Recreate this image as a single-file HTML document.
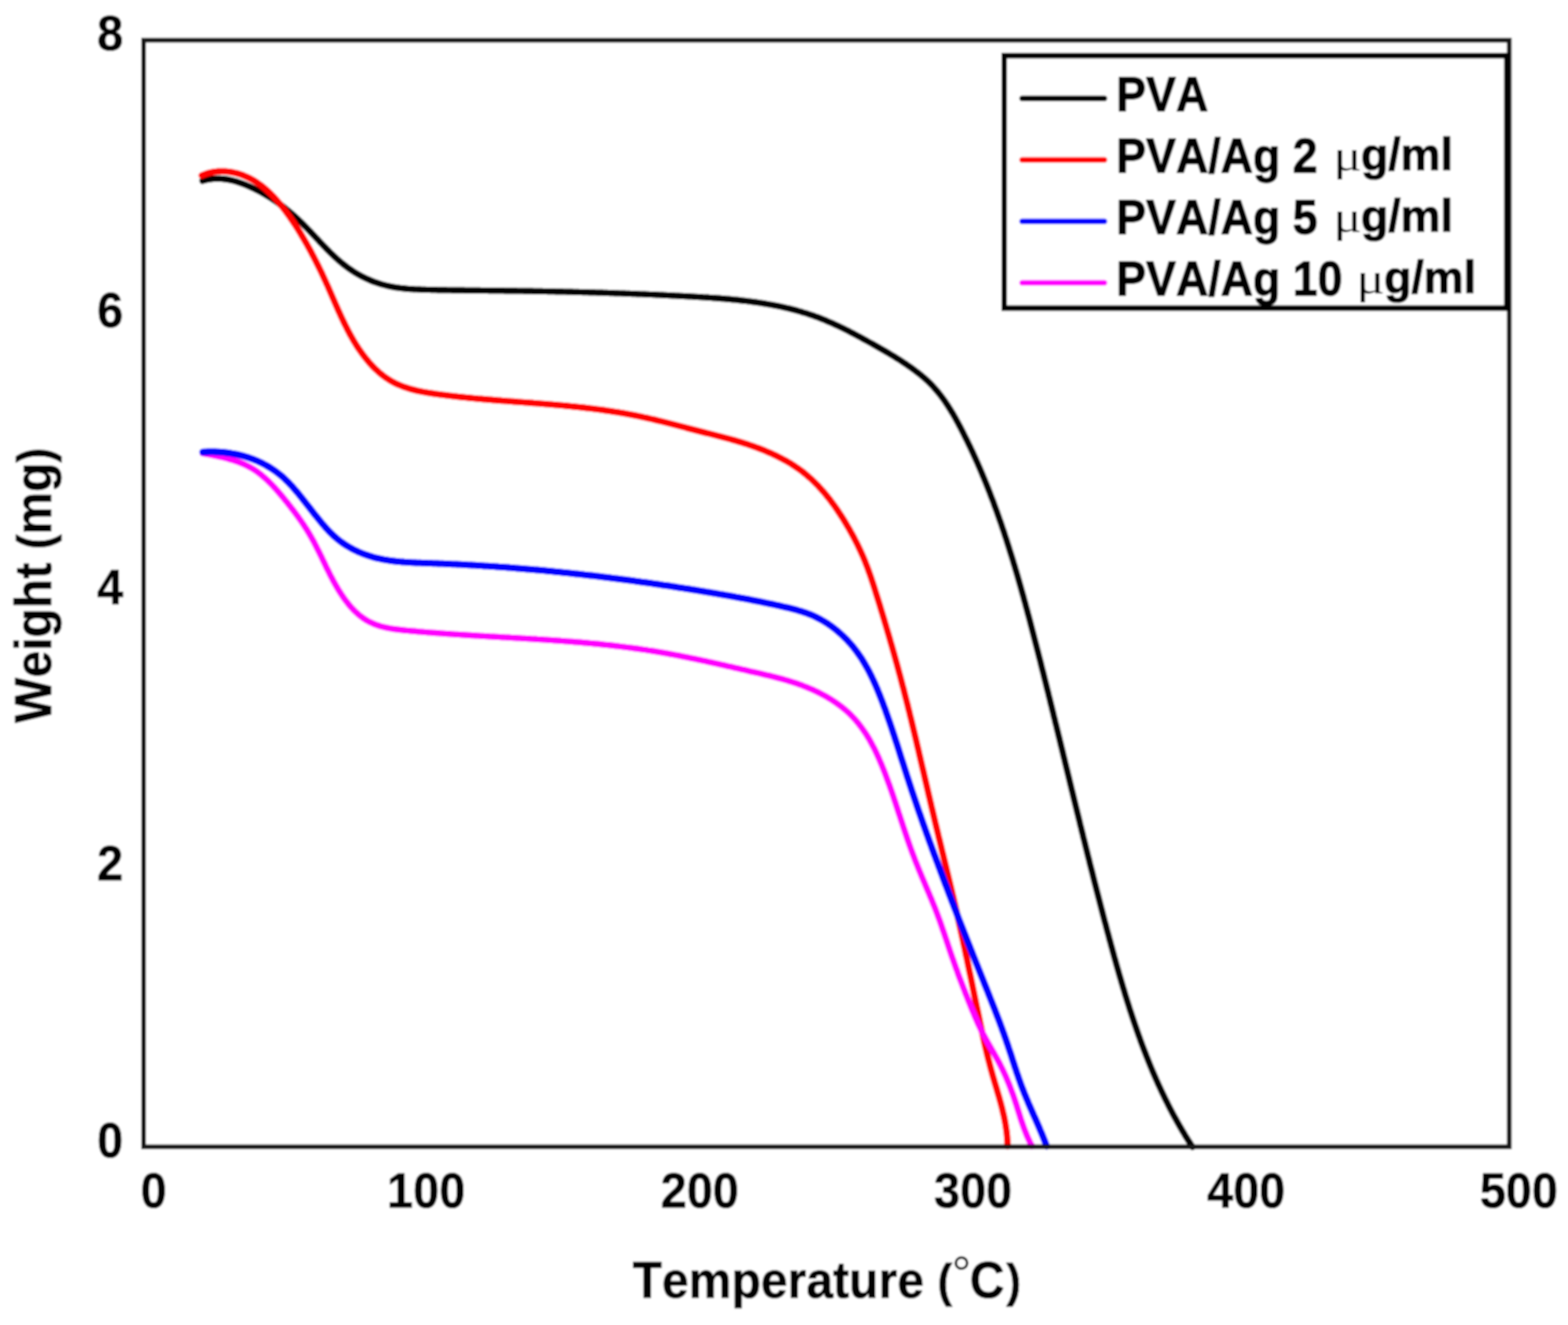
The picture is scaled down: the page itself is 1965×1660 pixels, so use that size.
<!DOCTYPE html>
<html><head><meta charset="utf-8"><title>TGA curves</title>
<style>html,body{margin:0;padding:0;background:#fff;overflow:hidden;}svg{display:block;font-kerning:none;}</style>
</head><body>
<svg xmlns="http://www.w3.org/2000/svg" width="1965" height="1660" viewBox="0 0 1965 1660" font-family="'Liberation Sans', Arial, Helvetica, sans-serif" font-weight="bold" fill="#000" style="font-kerning:none"><defs><filter id="soft" x="0" y="0" width="1965" height="1660" filterUnits="userSpaceOnUse"><feGaussianBlur stdDeviation="0.8"/></filter></defs><g filter="url(#soft)"><rect x="0" y="0" width="1965" height="1660" fill="#ffffff"/>
<g fill="none" stroke-linecap="round" stroke-linejoin="round">
<path d="M253.9 226.5L255.9 225.9L257.9 225.4L259.9 225.0L261.8 224.6L263.8 224.4L265.8 224.1L267.7 224.0L269.7 223.9L271.7 223.8L273.6 223.8L275.6 223.9L277.5 224.0L279.5 224.2L281.4 224.4L283.4 224.6L285.3 224.9L287.2 225.3L289.1 225.7L291.1 226.1L293.0 226.6L294.9 227.1L296.8 227.7L298.7 228.3L300.6 228.9L302.5 229.6L304.3 230.2L306.2 231.0L308.1 231.7L309.9 232.5L311.7 233.2L313.6 234.1L315.4 234.9L317.2 235.7L319.0 236.6L320.8 237.5L322.6 238.4L324.4 239.3L326.1 240.2L327.9 241.2L329.6 242.2L331.4 243.2L333.1 244.2L334.8 245.2L336.5 246.2L338.2 247.3L339.9 248.4L341.6 249.5L343.2 250.6L344.9 251.7L346.6 252.9L348.2 254.0L349.8 255.2L351.4 256.4L353.1 257.6L354.7 258.8L356.2 260.0L357.8 261.3L359.4 262.5L360.9 263.8L362.5 265.1L364.0 266.4L365.6 267.7L367.1 269.0L368.6 270.3L370.1 271.7L371.6 273.1L373.1 274.4L374.5 275.8L376.0 277.2L377.4 278.6L378.9 280.0L380.3 281.4L381.7 282.9L383.2 284.3L384.6 285.8L386.0 287.2L387.4 288.7L388.8 290.1L390.2 291.6L391.5 293.1L392.9 294.5L394.3 296.0L395.7 297.5L397.1 299.0L398.5 300.4L399.8 301.9L401.2 303.4L402.6 304.8L404.0 306.3L405.4 307.7L406.8 309.2L408.2 310.6L409.6 312.1L411.0 313.5L412.4 314.9L413.8 316.3L415.2 317.7L416.7 319.1L418.1 320.4L419.6 321.8L421.0 323.2L422.5 324.5L424.0 325.8L425.5 327.1L427.0 328.4L428.5 329.6L430.0 330.9L431.6 332.1L433.2 333.3L434.7 334.5L436.3 335.7L437.9 336.8L439.6 337.9L441.2 339.0L442.9 340.1L444.6 341.2L446.3 342.2L448.0 343.2L449.7 344.2L451.4 345.1L453.2 346.1L454.9 347.0L456.7 347.8L458.5 348.7L460.3 349.5L462.1 350.3L464.0 351.1L465.8 351.9L467.6 352.6L469.5 353.3L471.4 353.9L473.3 354.6L475.1 355.2L477.0 355.8L479.0 356.4L480.9 356.9L482.8 357.4L484.7 357.9L486.7 358.3L488.6 358.8L490.6 359.1L492.5 359.5L494.5 359.9L496.5 360.2L498.4 360.5L500.4 360.7L502.4 361.0L504.4 361.2L506.4 361.4L508.4 361.6L510.4 361.8L512.4 362.0L514.4 362.1L516.4 362.2L518.4 362.3L520.4 362.5L522.5 362.5L524.5 362.6L526.5 362.7L528.5 362.8L530.5 362.8L532.6 362.9L534.6 363.0L536.6 363.0L538.6 363.0L540.6 363.1L542.7 363.1L544.7 363.2L546.7 363.2L548.7 363.3L550.7 363.3L552.8 363.3L554.8 363.4L556.8 363.4L558.8 363.4L560.8 363.5L562.8 363.5L564.8 363.5L566.8 363.6L568.8 363.6L570.9 363.6L572.9 363.6L574.9 363.7L576.9 363.7L578.9 363.7L580.9 363.7L582.9 363.8L584.9 363.8L586.9 363.8L588.9 363.8L590.9 363.9L592.9 363.9L594.9 363.9L596.9 363.9L598.9 363.9L600.9 363.9L602.9 364.0L604.9 364.0L606.9 364.0L608.9 364.0L610.9 364.0L612.9 364.1L614.9 364.1L616.9 364.1L618.9 364.1L620.9 364.1L622.9 364.2L624.9 364.2L626.9 364.2L628.9 364.2L630.9 364.2L632.9 364.3L634.9 364.3L636.9 364.3L638.9 364.3L640.9 364.4L642.9 364.4L644.9 364.4L646.9 364.4L648.9 364.5L650.9 364.5L652.9 364.5L654.9 364.5L656.9 364.6L658.9 364.6L660.9 364.6L662.8 364.7L664.8 364.7L666.8 364.7L668.8 364.8L670.8 364.8L672.8 364.8L674.8 364.9L676.8 364.9L678.8 364.9L680.8 365.0L682.8 365.0L684.8 365.0L686.8 365.1L688.8 365.1L690.8 365.1L692.8 365.2L694.7 365.2L696.7 365.3L698.7 365.3L700.7 365.3L702.7 365.4L704.7 365.4L706.7 365.5L708.7 365.5L710.7 365.6L712.7 365.6L714.7 365.7L716.7 365.7L718.7 365.8L720.7 365.8L722.7 365.9L724.6 365.9L726.6 366.0L728.6 366.0L730.6 366.1L732.6 366.1L734.6 366.2L736.6 366.2L738.6 366.3L740.6 366.3L742.6 366.4L744.6 366.4L746.6 366.5L748.6 366.6L750.6 366.6L752.6 366.7L754.6 366.7L756.6 366.8L758.6 366.9L760.5 366.9L762.5 367.0L764.5 367.1L766.5 367.1L768.5 367.2L770.5 367.3L772.5 367.3L774.5 367.4L776.5 367.5L778.5 367.5L780.5 367.6L782.5 367.7L784.5 367.8L786.5 367.8L788.5 367.9L790.5 368.0L792.5 368.1L794.5 368.1L796.5 368.2L798.5 368.3L800.5 368.4L802.5 368.5L804.5 368.5L806.5 368.6L808.5 368.7L810.5 368.8L812.5 368.9L814.5 369.0L816.5 369.0L818.5 369.1L820.5 369.2L822.5 369.3L824.5 369.4L826.5 369.5L828.5 369.6L830.5 369.7L832.5 369.8L834.5 369.9L836.5 370.0L838.6 370.1L840.6 370.2L842.6 370.3L844.6 370.4L846.6 370.5L848.6 370.6L850.6 370.7L852.6 370.8L854.6 370.9L856.6 371.0L858.6 371.1L860.6 371.2L862.7 371.3L864.7 371.4L866.7 371.5L868.7 371.6L870.7 371.8L872.7 371.9L874.7 372.0L876.7 372.1L878.8 372.2L880.8 372.4L882.8 372.5L884.8 372.6L886.8 372.7L888.8 372.9L890.8 373.0L892.8 373.2L894.9 373.3L896.9 373.4L898.9 373.6L900.9 373.7L902.9 373.9L904.9 374.1L906.9 374.2L908.9 374.4L910.9 374.6L912.9 374.7L914.9 374.9L916.9 375.1L918.9 375.3L921.0 375.5L923.0 375.7L925.0 375.9L926.9 376.1L928.9 376.4L930.9 376.6L932.9 376.8L934.9 377.0L936.9 377.3L938.9 377.5L940.9 377.8L942.9 378.1L944.9 378.3L946.9 378.6L948.8 378.9L950.8 379.2L952.8 379.5L954.8 379.8L956.7 380.1L958.7 380.4L960.7 380.8L962.6 381.1L964.6 381.5L966.6 381.8L968.5 382.2L970.5 382.6L972.4 382.9L974.4 383.3L976.3 383.7L978.3 384.1L980.2 384.6L982.2 385.0L984.1 385.4L986.0 385.9L988.0 386.3L989.9 386.8L991.8 387.3L993.8 387.8L995.7 388.3L997.6 388.8L999.5 389.3L1001.4 389.9L1003.3 390.4L1005.2 391.0L1007.1 391.6L1009.0 392.1L1010.9 392.7L1012.8 393.3L1014.7 394.0L1016.6 394.6L1018.4 395.2L1020.3 395.9L1022.2 396.6L1024.0 397.2L1025.9 397.9L1027.8 398.6L1029.6 399.4L1031.5 400.1L1033.3 400.8L1035.2 401.6L1037.0 402.4L1038.8 403.2L1040.7 404.0L1042.5 404.8L1044.3 405.6L1046.1 406.4L1047.9 407.2L1049.8 408.1L1051.6 408.9L1053.4 409.8L1055.2 410.7L1057.0 411.6L1058.8 412.4L1060.6 413.3L1062.4 414.2L1064.2 415.2L1065.9 416.1L1067.7 417.0L1069.5 417.9L1071.3 418.9L1073.1 419.8L1074.8 420.8L1076.6 421.7L1078.4 422.7L1080.2 423.6L1081.9 424.6L1083.7 425.6L1085.5 426.5L1087.2 427.5L1089.0 428.5L1090.8 429.5L1092.5 430.4L1094.3 431.4L1096.0 432.4L1097.8 433.4L1099.5 434.4L1101.3 435.4L1103.0 436.4L1104.8 437.4L1106.5 438.4L1108.3 439.4L1110.0 440.4L1111.7 441.4L1113.5 442.4L1115.2 443.5L1116.9 444.5L1118.6 445.5L1120.4 446.6L1122.1 447.6L1123.8 448.7L1125.5 449.8L1127.2 450.8L1128.9 451.9L1130.6 453.0L1132.2 454.1L1133.9 455.2L1135.6 456.3L1137.2 457.5L1138.9 458.6L1140.5 459.8L1142.2 460.9L1143.8 462.1L1145.4 463.3L1147.0 464.5L1148.6 465.7L1150.2 466.9L1151.8 468.1L1153.4 469.4L1154.9 470.7L1156.4 471.9L1158.0 473.2L1159.5 474.6L1160.9 475.9L1162.4 477.2L1163.8 478.6L1165.3 480.0L1166.7 481.4L1168.0 482.8L1169.4 484.3L1170.7 485.7L1172.0 487.2L1173.3 488.7L1174.6 490.2L1175.9 491.7L1177.1 493.3L1178.3 494.8L1179.5 496.4L1180.7 498.0L1181.9 499.6L1183.1 501.2L1184.2 502.8L1185.3 504.5L1186.4 506.1L1187.5 507.8L1188.6 509.5L1189.7 511.2L1190.8 512.9L1191.8 514.6L1192.8 516.3L1193.9 518.0L1194.9 519.7L1195.9 521.5L1196.9 523.2L1197.8 524.9L1198.8 526.7L1199.8 528.5L1200.7 530.2L1201.7 532.0L1202.6 533.8L1203.6 535.6L1204.5 537.3L1205.4 539.1L1206.3 540.9L1207.2 542.7L1208.1 544.5L1209.0 546.3L1209.9 548.1L1210.8 549.9L1211.7 551.7L1212.6 553.5L1213.5 555.3L1214.3 557.1L1215.2 558.9L1216.1 560.7L1216.9 562.5L1217.8 564.3L1218.6 566.2L1219.5 568.0L1220.3 569.8L1221.1 571.6L1222.0 573.4L1222.8 575.3L1223.6 577.1L1224.4 578.9L1225.2 580.7L1226.0 582.6L1226.8 584.4L1227.6 586.2L1228.4 588.1L1229.2 589.9L1230.0 591.8L1230.8 593.6L1231.5 595.5L1232.3 597.3L1233.1 599.1L1233.8 601.0L1234.6 602.8L1235.3 604.7L1236.1 606.5L1236.8 608.4L1237.6 610.3L1238.3 612.1L1239.0 614.0L1239.8 615.8L1240.5 617.7L1241.2 619.6L1241.9 621.4L1242.6 623.3L1243.3 625.2L1244.1 627.0L1244.8 628.9L1245.5 630.8L1246.1 632.7L1246.8 634.5L1247.5 636.4L1248.2 638.3L1248.9 640.2L1249.6 642.0L1250.2 643.9L1250.9 645.8L1251.6 647.7L1252.2 649.6L1252.9 651.5L1253.6 653.4L1254.2 655.2L1254.9 657.1L1255.5 659.0L1256.1 660.9L1256.8 662.8L1257.4 664.7L1258.1 666.6L1258.7 668.5L1259.3 670.4L1259.9 672.3L1260.6 674.2L1261.2 676.1L1261.8 678.0L1262.4 679.9L1263.0 681.8L1263.6 683.7L1264.2 685.6L1264.8 687.5L1265.4 689.4L1266.0 691.4L1266.6 693.3L1267.2 695.2L1267.8 697.1L1268.4 699.0L1269.0 700.9L1269.6 702.8L1270.1 704.8L1270.7 706.7L1271.3 708.6L1271.9 710.5L1272.4 712.4L1273.0 714.3L1273.6 716.3L1274.1 718.2L1274.7 720.1L1275.3 722.0L1275.8 724.0L1276.4 725.9L1276.9 727.8L1277.5 729.7L1278.0 731.7L1278.6 733.6L1279.1 735.5L1279.7 737.4L1280.2 739.4L1280.7 741.3L1281.3 743.2L1281.8 745.2L1282.4 747.1L1282.9 749.0L1283.4 751.0L1283.9 752.9L1284.5 754.8L1285.0 756.8L1285.5 758.7L1286.0 760.6L1286.6 762.6L1287.1 764.5L1287.6 766.4L1288.1 768.4L1288.6 770.3L1289.2 772.2L1289.7 774.2L1290.2 776.1L1290.7 778.0L1291.2 780.0L1291.7 781.9L1292.2 783.9L1292.7 785.8L1293.2 787.7L1293.7 789.7L1294.2 791.6L1294.7 793.6L1295.2 795.5L1295.7 797.4L1296.2 799.4L1296.7 801.3L1297.2 803.3L1297.7 805.2L1298.2 807.1L1298.7 809.1L1299.2 811.0L1299.7 813.0L1300.2 814.9L1300.7 816.8L1301.2 818.8L1301.7 820.7L1302.2 822.7L1302.7 824.6L1303.2 826.5L1303.7 828.5L1304.2 830.4L1304.6 832.4L1305.1 834.3L1305.6 836.3L1306.1 838.2L1306.6 840.1L1307.1 842.1L1307.6 844.0L1308.1 846.0L1308.5 847.9L1309.0 849.8L1309.5 851.8L1310.0 853.7L1310.5 855.7L1311.0 857.6L1311.4 859.5L1311.9 861.5L1312.4 863.4L1312.9 865.4L1313.4 867.3L1313.9 869.3L1314.3 871.2L1314.8 873.1L1315.3 875.1L1315.8 877.0L1316.2 879.0L1316.7 880.9L1317.2 882.9L1317.7 884.8L1318.2 886.7L1318.6 888.7L1319.1 890.6L1319.6 892.6L1320.1 894.5L1320.5 896.4L1321.0 898.4L1321.5 900.3L1322.0 902.3L1322.4 904.2L1322.9 906.2L1323.4 908.1L1323.9 910.0L1324.3 912.0L1324.8 913.9L1325.3 915.9L1325.8 917.8L1326.2 919.8L1326.7 921.7L1327.2 923.6L1327.7 925.6L1328.1 927.5L1328.6 929.5L1329.1 931.4L1329.5 933.4L1330.0 935.3L1330.5 937.2L1331.0 939.2L1331.4 941.1L1331.9 943.1L1332.4 945.0L1332.8 947.0L1333.3 948.9L1333.8 950.8L1334.3 952.8L1334.7 954.7L1335.2 956.7L1335.7 958.6L1336.1 960.5L1336.6 962.5L1337.1 964.4L1337.6 966.4L1338.0 968.3L1338.5 970.3L1339.0 972.2L1339.4 974.1L1339.9 976.1L1340.4 978.0L1340.8 980.0L1341.3 981.9L1341.8 983.9L1342.3 985.8L1342.7 987.7L1343.2 989.7L1343.7 991.6L1344.2 993.6L1344.6 995.5L1345.1 997.5L1345.6 999.4L1346.0 1001.3L1346.5 1003.3L1347.0 1005.2L1347.5 1007.2L1347.9 1009.1L1348.4 1011.0L1348.9 1013.0L1349.4 1014.9L1349.8 1016.9L1350.3 1018.8L1350.8 1020.8L1351.3 1022.7L1351.7 1024.6L1352.2 1026.6L1352.7 1028.5L1353.2 1030.5L1353.6 1032.4L1354.1 1034.4L1354.6 1036.3L1355.1 1038.2L1355.5 1040.2L1356.0 1042.1L1356.5 1044.1L1357.0 1046.0L1357.4 1047.9L1357.9 1049.9L1358.4 1051.8L1358.9 1053.8L1359.4 1055.7L1359.8 1057.6L1360.3 1059.6L1360.8 1061.5L1361.3 1063.5L1361.8 1065.4L1362.3 1067.4L1362.7 1069.3L1363.2 1071.2L1363.7 1073.2L1364.2 1075.1L1364.7 1077.1L1365.2 1079.0L1365.6 1080.9L1366.1 1082.9L1366.6 1084.8L1367.1 1086.8L1367.6 1088.7L1368.1 1090.6L1368.6 1092.6L1369.1 1094.5L1369.6 1096.5L1370.0 1098.4L1370.5 1100.3L1371.0 1102.3L1371.5 1104.2L1372.0 1106.2L1372.5 1108.1L1373.0 1110.0L1373.5 1112.0L1374.0 1113.9L1374.5 1115.9L1375.0 1117.8L1375.5 1119.7L1376.0 1121.7L1376.5 1123.6L1377.0 1125.5L1377.5 1127.5L1378.0 1129.4L1378.5 1131.4L1379.0 1133.3L1379.5 1135.2L1380.0 1137.2L1380.5 1139.1L1381.0 1141.1L1381.5 1143.0L1382.0 1144.9L1382.5 1146.9L1383.0 1148.8L1383.5 1150.7L1384.0 1152.7L1384.5 1154.6L1385.1 1156.6L1385.6 1158.5L1386.1 1160.4L1386.6 1162.4L1387.1 1164.3L1387.6 1166.2L1388.1 1168.2L1388.7 1170.1L1389.2 1172.1L1389.7 1174.0L1390.2 1175.9L1390.7 1177.9L1391.3 1179.8L1391.8 1181.7L1392.3 1183.7L1392.8 1185.6L1393.4 1187.5L1393.9 1189.5L1394.4 1191.4L1394.9 1193.3L1395.5 1195.3L1396.0 1197.2L1396.5 1199.1L1397.1 1201.1L1397.6 1203.0L1398.2 1204.9L1398.7 1206.9L1399.2 1208.8L1399.8 1210.7L1400.3 1212.7L1400.9 1214.6L1401.4 1216.5L1402.0 1218.4L1402.5 1220.4L1403.1 1222.3L1403.6 1224.2L1404.2 1226.1L1404.8 1228.1L1405.3 1230.0L1405.9 1231.9L1406.5 1233.8L1407.0 1235.8L1407.6 1237.7L1408.2 1239.6L1408.8 1241.5L1409.4 1243.4L1409.9 1245.4L1410.5 1247.3L1411.1 1249.2L1411.7 1251.1L1412.3 1253.0L1412.9 1254.9L1413.5 1256.8L1414.1 1258.7L1414.7 1260.6L1415.3 1262.6L1415.9 1264.5L1416.5 1266.4L1417.2 1268.3L1417.8 1270.2L1418.4 1272.1L1419.0 1274.0L1419.7 1275.9L1420.3 1277.8L1420.9 1279.7L1421.6 1281.6L1422.2 1283.4L1422.9 1285.3L1423.5 1287.2L1424.2 1289.1L1424.8 1291.0L1425.5 1292.9L1426.2 1294.8L1426.8 1296.7L1427.5 1298.5L1428.2 1300.4L1428.9 1302.3L1429.5 1304.2L1430.2 1306.0L1430.9 1307.9L1431.6 1309.8L1432.3 1311.7L1433.0 1313.5L1433.7 1315.4L1434.5 1317.3L1435.2 1319.1L1435.9 1321.0L1436.6 1322.8L1437.4 1324.7L1438.1 1326.5L1438.8 1328.4L1439.6 1330.3L1440.3 1332.1L1441.1 1333.9L1441.8 1335.8L1442.6 1337.6L1443.4 1339.5L1444.1 1341.3L1444.9 1343.2L1445.7 1345.0L1446.5 1346.8L1447.3 1348.7L1448.1 1350.5L1448.9 1352.3L1449.7 1354.1L1450.5 1355.9L1451.3 1357.8L1452.2 1359.6L1453.0 1361.4L1453.8 1363.2L1454.7 1365.0L1455.5 1366.8L1456.4 1368.6L1457.2 1370.4L1458.1 1372.2L1459.0 1374.0L1459.8 1375.8L1460.7 1377.6L1461.6 1379.4L1462.5 1381.2L1463.4 1383.0L1464.3 1384.8L1465.2 1386.5L1466.1 1388.3L1467.0 1390.1L1468.0 1391.9L1468.9 1393.6L1469.8 1395.4L1470.8 1397.2L1471.7 1398.9L1472.7 1400.7L1473.7 1402.4L1474.6 1404.2L1475.6 1405.9L1476.6 1407.7L1477.6 1409.4L1478.6 1411.2L1479.6 1412.9L1480.6 1414.6L1481.6 1416.4L1482.6 1418.1L1483.7 1419.8L1484.7 1421.6L1485.7 1423.3L1486.8 1425.0L1487.9 1426.7L1488.9 1428.4L1490.0 1430.1L1491.1 1431.8L1492.2 1433.5L1493.2 1435.2L1494.4 1436.9" stroke="#000000" stroke-width="8.2"/>
<path d="M252.9 219.9L254.8 219.1L256.7 218.4L258.6 217.7L260.5 217.1L262.5 216.5L264.4 216.1L266.4 215.7L268.4 215.3L270.3 215.1L272.3 214.8L274.3 214.7L276.3 214.6L278.3 214.6L280.3 214.6L282.3 214.7L284.2 214.9L286.2 215.1L288.2 215.3L290.1 215.7L292.1 216.0L294.0 216.5L296.0 216.9L297.9 217.4L299.8 218.0L301.7 218.6L303.6 219.3L305.5 220.0L307.3 220.8L309.2 221.6L311.0 222.4L312.8 223.3L314.5 224.2L316.3 225.2L318.0 226.2L319.7 227.2L321.4 228.3L323.0 229.4L324.7 230.6L326.3 231.7L327.9 232.9L329.4 234.2L331.0 235.4L332.5 236.7L334.0 238.0L335.5 239.4L337.0 240.7L338.4 242.1L339.9 243.5L341.3 245.0L342.7 246.4L344.1 247.9L345.4 249.4L346.8 250.9L348.1 252.4L349.4 253.9L350.7 255.4L352.0 257.0L353.3 258.5L354.5 260.1L355.7 261.7L357.0 263.3L358.2 264.9L359.4 266.5L360.5 268.1L361.7 269.7L362.9 271.3L364.0 273.0L365.1 274.6L366.3 276.3L367.4 277.9L368.5 279.6L369.6 281.3L370.7 283.0L371.7 284.6L372.8 286.3L373.9 288.0L374.9 289.7L376.0 291.4L377.0 293.1L378.0 294.9L379.1 296.6L380.1 298.3L381.1 300.0L382.1 301.8L383.1 303.5L384.1 305.2L385.1 307.0L386.0 308.7L387.0 310.5L388.0 312.2L388.9 314.0L389.9 315.7L390.8 317.5L391.7 319.3L392.7 321.0L393.6 322.8L394.5 324.6L395.4 326.4L396.3 328.2L397.2 330.0L398.1 331.7L399.0 333.5L399.9 335.3L400.8 337.1L401.6 338.9L402.5 340.7L403.4 342.5L404.2 344.4L405.1 346.2L405.9 348.0L406.7 349.8L407.6 351.6L408.4 353.4L409.2 355.3L410.1 357.1L410.9 358.9L411.7 360.7L412.5 362.6L413.3 364.4L414.1 366.2L414.9 368.1L415.7 369.9L416.5 371.7L417.3 373.6L418.1 375.4L418.9 377.2L419.7 379.1L420.5 380.9L421.3 382.7L422.1 384.5L422.9 386.4L423.7 388.2L424.5 390.0L425.4 391.8L426.2 393.7L427.0 395.5L427.9 397.3L428.7 399.1L429.6 400.9L430.4 402.7L431.3 404.5L432.2 406.3L433.1 408.1L434.0 409.9L434.9 411.7L435.8 413.5L436.7 415.2L437.7 417.0L438.6 418.8L439.6 420.5L440.6 422.3L441.6 424.0L442.6 425.8L443.6 427.5L444.7 429.2L445.7 431.0L446.8 432.7L447.9 434.4L449.0 436.1L450.2 437.8L451.3 439.4L452.5 441.1L453.7 442.8L454.9 444.4L456.1 446.0L457.3 447.6L458.6 449.2L459.9 450.8L461.2 452.3L462.5 453.9L463.8 455.4L465.2 456.9L466.5 458.3L467.9 459.8L469.3 461.2L470.7 462.6L472.2 463.9L473.7 465.3L475.1 466.6L476.6 467.9L478.2 469.1L479.7 470.3L481.3 471.5L482.9 472.7L484.5 473.8L486.1 474.8L487.7 475.9L489.4 476.9L491.1 477.9L492.8 478.8L494.5 479.7L496.3 480.6L498.0 481.4L499.8 482.2L501.6 482.9L503.5 483.6L505.3 484.3L507.1 485.0L509.0 485.6L510.9 486.2L512.8 486.8L514.7 487.4L516.6 487.9L518.5 488.4L520.5 488.9L522.4 489.4L524.4 489.8L526.4 490.2L528.3 490.6L530.3 491.0L532.3 491.4L534.3 491.7L536.3 492.1L538.3 492.4L540.3 492.7L542.4 493.0L544.4 493.3L546.4 493.6L548.4 493.9L550.4 494.2L552.5 494.4L554.5 494.7L556.5 494.9L558.5 495.2L560.5 495.4L562.6 495.7L564.6 495.9L566.6 496.2L568.6 496.4L570.6 496.6L572.6 496.8L574.6 497.1L576.7 497.3L578.7 497.5L580.7 497.7L582.7 497.9L584.7 498.1L586.7 498.3L588.7 498.5L590.7 498.7L592.7 498.9L594.7 499.1L596.8 499.3L598.8 499.5L600.8 499.6L602.8 499.8L604.8 500.0L606.8 500.2L608.8 500.3L610.8 500.5L612.8 500.7L614.8 500.8L616.8 501.0L618.8 501.2L620.8 501.3L622.8 501.5L624.8 501.7L626.8 501.8L628.8 502.0L630.8 502.1L632.8 502.3L634.8 502.4L636.8 502.6L638.7 502.7L640.7 502.9L642.7 503.0L644.7 503.2L646.7 503.3L648.7 503.5L650.7 503.6L652.7 503.8L654.7 503.9L656.7 504.1L658.7 504.2L660.7 504.4L662.6 504.5L664.6 504.7L666.6 504.8L668.6 505.0L670.6 505.1L672.6 505.3L674.6 505.4L676.5 505.6L678.5 505.8L680.5 505.9L682.5 506.1L684.5 506.2L686.5 506.4L688.4 506.6L690.4 506.7L692.4 506.9L694.4 507.1L696.4 507.2L698.3 507.4L700.3 507.6L702.3 507.8L704.3 507.9L706.3 508.1L708.2 508.3L710.2 508.5L712.2 508.7L714.2 508.9L716.2 509.1L718.1 509.3L720.1 509.5L722.1 509.7L724.1 509.9L726.0 510.1L728.0 510.3L730.0 510.5L732.0 510.7L733.9 511.0L735.9 511.2L737.9 511.4L739.8 511.7L741.8 511.9L743.8 512.2L745.8 512.4L747.7 512.7L749.7 512.9L751.7 513.2L753.6 513.4L755.6 513.7L757.6 514.0L759.6 514.3L761.5 514.6L763.5 514.9L765.5 515.2L767.4 515.5L769.4 515.8L771.4 516.1L773.3 516.4L775.3 516.7L777.3 517.1L779.2 517.4L781.2 517.7L783.2 518.1L785.1 518.4L787.1 518.8L789.1 519.2L791.0 519.5L793.0 519.9L795.0 520.3L796.9 520.7L798.9 521.1L800.9 521.5L802.8 521.9L804.8 522.3L806.8 522.8L808.7 523.2L810.7 523.6L812.7 524.1L814.6 524.5L816.6 525.0L818.6 525.4L820.5 525.9L822.5 526.4L824.4 526.9L826.4 527.3L828.4 527.8L830.3 528.3L832.3 528.8L834.2 529.3L836.2 529.8L838.2 530.3L840.1 530.8L842.1 531.3L844.0 531.8L846.0 532.3L847.9 532.8L849.9 533.3L851.8 533.8L853.8 534.3L855.7 534.8L857.7 535.3L859.6 535.8L861.6 536.4L863.5 536.9L865.5 537.4L867.4 537.9L869.4 538.4L871.3 538.9L873.2 539.4L875.2 539.9L877.1 540.4L879.1 540.9L881.0 541.4L882.9 541.9L884.9 542.4L886.8 542.8L888.7 543.3L890.6 543.8L892.6 544.3L894.5 544.8L896.4 545.3L898.3 545.8L900.3 546.3L902.2 546.7L904.1 547.2L906.0 547.7L908.0 548.3L909.9 548.8L911.8 549.3L913.7 549.8L915.6 550.3L917.6 550.9L919.5 551.4L921.4 551.9L923.3 552.5L925.2 553.1L927.1 553.6L929.1 554.2L931.0 554.8L932.9 555.4L934.8 556.0L936.7 556.6L938.6 557.3L940.5 557.9L942.4 558.6L944.3 559.2L946.2 559.9L948.1 560.6L950.0 561.3L951.9 562.0L953.8 562.7L955.7 563.5L957.5 564.2L959.4 565.0L961.3 565.8L963.1 566.6L964.9 567.4L966.8 568.2L968.6 569.0L970.4 569.9L972.2 570.7L974.1 571.6L975.8 572.5L977.6 573.4L979.4 574.3L981.2 575.3L982.9 576.2L984.7 577.2L986.4 578.2L988.1 579.2L989.9 580.2L991.6 581.2L993.2 582.3L994.9 583.4L996.6 584.5L998.2 585.6L999.9 586.7L1001.5 587.9L1003.1 589.0L1004.7 590.2L1006.3 591.4L1007.8 592.6L1009.4 593.9L1010.9 595.2L1012.4 596.5L1013.9 597.8L1015.4 599.1L1016.9 600.4L1018.3 601.8L1019.8 603.2L1021.2 604.6L1022.6 606.0L1024.0 607.4L1025.4 608.8L1026.7 610.3L1028.1 611.8L1029.4 613.3L1030.8 614.8L1032.1 616.3L1033.4 617.8L1034.7 619.4L1035.9 620.9L1037.2 622.5L1038.4 624.1L1039.7 625.6L1040.9 627.2L1042.1 628.8L1043.3 630.5L1044.5 632.1L1045.7 633.7L1046.9 635.4L1048.0 637.0L1049.2 638.7L1050.3 640.4L1051.4 642.1L1052.5 643.7L1053.6 645.4L1054.7 647.1L1055.8 648.8L1056.9 650.5L1057.9 652.2L1059.0 654.0L1060.0 655.7L1061.0 657.4L1062.0 659.1L1063.1 660.9L1064.1 662.6L1065.1 664.3L1066.0 666.1L1067.0 667.8L1068.0 669.6L1068.9 671.3L1069.9 673.1L1070.8 674.8L1071.7 676.6L1072.6 678.3L1073.5 680.1L1074.4 681.9L1075.3 683.7L1076.1 685.5L1077.0 687.3L1077.8 689.1L1078.7 690.9L1079.5 692.7L1080.3 694.5L1081.1 696.3L1081.9 698.1L1082.7 700.0L1083.4 701.8L1084.2 703.6L1084.9 705.5L1085.6 707.4L1086.4 709.2L1087.1 711.1L1087.8 713.0L1088.4 714.8L1089.1 716.7L1089.8 718.6L1090.5 720.5L1091.1 722.4L1091.8 724.3L1092.4 726.2L1093.0 728.1L1093.7 730.0L1094.3 731.9L1094.9 733.8L1095.5 735.7L1096.1 737.6L1096.7 739.6L1097.3 741.5L1097.9 743.4L1098.5 745.3L1099.1 747.2L1099.7 749.2L1100.3 751.1L1100.9 753.0L1101.5 754.9L1102.1 756.8L1102.7 758.8L1103.3 760.7L1103.8 762.6L1104.4 764.5L1105.0 766.4L1105.6 768.4L1106.2 770.3L1106.7 772.2L1107.3 774.1L1107.9 776.0L1108.5 778.0L1109.0 779.9L1109.6 781.8L1110.2 783.7L1110.7 785.6L1111.3 787.6L1111.9 789.5L1112.4 791.4L1113.0 793.3L1113.6 795.3L1114.1 797.2L1114.7 799.1L1115.2 801.0L1115.8 802.9L1116.3 804.9L1116.9 806.8L1117.4 808.7L1118.0 810.6L1118.5 812.6L1119.1 814.5L1119.6 816.4L1120.2 818.3L1120.7 820.3L1121.2 822.2L1121.8 824.1L1122.3 826.0L1122.8 828.0L1123.4 829.9L1123.9 831.8L1124.4 833.8L1125.0 835.7L1125.5 837.6L1126.0 839.5L1126.5 841.5L1127.0 843.4L1127.6 845.3L1128.1 847.3L1128.6 849.2L1129.1 851.1L1129.6 853.1L1130.1 855.0L1130.6 856.9L1131.1 858.9L1131.6 860.8L1132.2 862.7L1132.7 864.7L1133.1 866.6L1133.6 868.5L1134.1 870.5L1134.6 872.4L1135.1 874.4L1135.6 876.3L1136.1 878.2L1136.6 880.2L1137.1 882.1L1137.6 884.1L1138.0 886.0L1138.5 888.0L1139.0 889.9L1139.5 891.8L1140.0 893.8L1140.4 895.7L1140.9 897.7L1141.4 899.6L1141.9 901.6L1142.3 903.5L1142.8 905.4L1143.3 907.4L1143.7 909.3L1144.2 911.3L1144.7 913.2L1145.1 915.2L1145.6 917.1L1146.1 919.1L1146.5 921.0L1147.0 923.0L1147.5 924.9L1147.9 926.9L1148.4 928.8L1148.8 930.8L1149.3 932.7L1149.7 934.7L1150.2 936.6L1150.7 938.6L1151.1 940.5L1151.6 942.5L1152.0 944.4L1152.5 946.4L1152.9 948.3L1153.4 950.3L1153.8 952.2L1154.3 954.2L1154.7 956.1L1155.2 958.1L1155.6 960.0L1156.1 962.0L1156.6 963.9L1157.0 965.9L1157.5 967.8L1157.9 969.8L1158.4 971.7L1158.8 973.7L1159.3 975.6L1159.7 977.6L1160.2 979.5L1160.6 981.5L1161.1 983.4L1161.5 985.4L1162.0 987.3L1162.4 989.3L1162.9 991.2L1163.3 993.2L1163.8 995.1L1164.2 997.1L1164.7 999.0L1165.2 1001.0L1165.6 1002.9L1166.1 1004.9L1166.5 1006.8L1167.0 1008.8L1167.4 1010.7L1167.9 1012.7L1168.4 1014.6L1168.8 1016.6L1169.3 1018.5L1169.7 1020.5L1170.2 1022.4L1170.7 1024.4L1171.1 1026.3L1171.6 1028.3L1172.0 1030.2L1172.5 1032.2L1173.0 1034.1L1173.4 1036.1L1173.9 1038.0L1174.4 1040.0L1174.8 1041.9L1175.3 1043.8L1175.8 1045.8L1176.2 1047.7L1176.7 1049.7L1177.2 1051.6L1177.7 1053.6L1178.1 1055.5L1178.6 1057.5L1179.1 1059.4L1179.5 1061.4L1180.0 1063.3L1180.5 1065.2L1180.9 1067.2L1181.4 1069.1L1181.9 1071.1L1182.4 1073.0L1182.8 1075.0L1183.3 1076.9L1183.8 1078.9L1184.2 1080.8L1184.7 1082.7L1185.2 1084.7L1185.6 1086.6L1186.1 1088.6L1186.6 1090.5L1187.0 1092.5L1187.5 1094.4L1188.0 1096.4L1188.4 1098.3L1188.9 1100.2L1189.4 1102.2L1189.8 1104.1L1190.3 1106.1L1190.8 1108.0L1191.2 1110.0L1191.7 1111.9L1192.1 1113.9L1192.6 1115.8L1193.1 1117.8L1193.5 1119.7L1194.0 1121.7L1194.4 1123.6L1194.9 1125.6L1195.4 1127.5L1195.8 1129.4L1196.3 1131.4L1196.7 1133.3L1197.2 1135.3L1197.6 1137.2L1198.1 1139.2L1198.5 1141.1L1199.0 1143.1L1199.4 1145.0L1199.8 1147.0L1200.3 1148.9L1200.7 1150.9L1201.2 1152.8L1201.6 1154.8L1202.0 1156.8L1202.5 1158.7L1202.9 1160.7L1203.4 1162.6L1203.8 1164.6L1204.2 1166.5L1204.6 1168.5L1205.1 1170.4L1205.5 1172.4L1205.9 1174.3L1206.4 1176.3L1206.8 1178.3L1207.2 1180.2L1207.6 1182.2L1208.0 1184.1L1208.5 1186.1L1208.9 1188.0L1209.3 1190.0L1209.7 1192.0L1210.1 1193.9L1210.5 1195.9L1210.9 1197.8L1211.4 1199.8L1211.8 1201.8L1212.2 1203.7L1212.6 1205.7L1213.0 1207.6L1213.4 1209.6L1213.8 1211.5L1214.2 1213.5L1214.6 1215.5L1215.0 1217.4L1215.5 1219.4L1215.9 1221.4L1216.3 1223.3L1216.7 1225.3L1217.1 1227.2L1217.5 1229.2L1217.9 1231.2L1218.3 1233.1L1218.7 1235.1L1219.1 1237.0L1219.5 1239.0L1219.9 1241.0L1220.3 1242.9L1220.7 1244.9L1221.1 1246.8L1221.5 1248.8L1221.9 1250.8L1222.3 1252.7L1222.7 1254.7L1223.1 1256.6L1223.5 1258.6L1223.9 1260.6L1224.3 1262.5L1224.8 1264.5L1225.2 1266.4L1225.6 1268.4L1226.0 1270.4L1226.4 1272.3L1226.8 1274.3L1227.2 1276.2L1227.6 1278.2L1228.0 1280.2L1228.4 1282.1L1228.8 1284.1L1229.3 1286.0L1229.7 1288.0L1230.1 1289.9L1230.5 1291.9L1230.9 1293.8L1231.3 1295.8L1231.8 1297.8L1232.2 1299.7L1232.6 1301.7L1233.1 1303.6L1233.5 1305.6L1233.9 1307.5L1234.4 1309.5L1234.8 1311.4L1235.3 1313.4L1235.8 1315.3L1236.2 1317.2L1236.7 1319.2L1237.1 1321.1L1237.6 1323.1L1238.1 1325.0L1238.6 1327.0L1239.1 1328.9L1239.6 1330.8L1240.1 1332.8L1240.6 1334.7L1241.1 1336.6L1241.6 1338.6L1242.1 1340.5L1242.7 1342.4L1243.2 1344.3L1243.7 1346.3L1244.3 1348.2L1244.8 1350.1L1245.4 1352.0L1246.0 1354.0L1246.5 1355.9L1247.1 1357.8L1247.7 1359.7L1248.2 1361.6L1248.8 1363.5L1249.4 1365.5L1249.9 1367.4L1250.5 1369.3L1251.0 1371.2L1251.6 1373.1L1252.2 1375.1L1252.7 1377.0L1253.2 1378.9L1253.8 1380.8L1254.3 1382.8L1254.8 1384.7L1255.3 1386.6L1255.8 1388.6L1256.3 1390.5L1256.7 1392.4L1257.2 1394.4L1257.6 1396.3L1258.1 1398.3L1258.5 1400.2L1258.9 1402.2L1259.3 1404.1L1259.6 1406.1L1260.0 1408.0L1260.3 1410.0L1260.6 1412.0L1260.9 1414.0L1261.2 1415.9L1261.5 1417.9L1261.7 1419.9L1261.9 1421.9L1262.1 1423.9L1262.2 1425.9L1262.4 1427.9L1262.5 1429.9L1262.6 1432.0L1262.6 1434.0L1262.6 1436.0" stroke="#ff0000" stroke-width="8.4"/>
<path d="M254.1 567.8L256.0 568.2L258.0 568.6L259.9 568.9L261.9 569.3L263.9 569.7L265.8 570.1L267.8 570.5L269.8 570.9L271.8 571.3L273.7 571.7L275.7 572.2L277.7 572.6L279.7 573.1L281.7 573.6L283.6 574.1L285.6 574.6L287.6 575.2L289.5 575.7L291.5 576.3L293.4 576.9L295.3 577.6L297.2 578.2L299.1 578.9L301.0 579.6L302.8 580.4L304.7 581.1L306.5 581.9L308.3 582.8L310.1 583.7L311.8 584.6L313.6 585.5L315.3 586.5L317.0 587.5L318.6 588.5L320.3 589.6L321.9 590.7L323.5 591.9L325.0 593.1L326.6 594.3L328.1 595.5L329.6 596.8L331.1 598.1L332.6 599.4L334.0 600.7L335.5 602.1L336.9 603.5L338.3 604.9L339.7 606.3L341.1 607.7L342.5 609.2L343.8 610.6L345.2 612.1L346.5 613.6L347.9 615.1L349.2 616.7L350.5 618.2L351.8 619.7L353.1 621.3L354.4 622.8L355.7 624.4L356.9 626.0L358.2 627.5L359.5 629.1L360.8 630.7L362.0 632.3L363.3 633.9L364.5 635.5L365.7 637.1L367.0 638.7L368.2 640.3L369.4 641.9L370.6 643.5L371.8 645.1L373.0 646.7L374.2 648.4L375.3 650.0L376.5 651.7L377.6 653.3L378.8 655.0L379.9 656.6L381.0 658.3L382.1 660.0L383.2 661.6L384.3 663.3L385.3 665.0L386.4 666.7L387.4 668.4L388.4 670.1L389.4 671.8L390.4 673.6L391.4 675.3L392.3 677.0L393.3 678.8L394.2 680.5L395.1 682.3L396.0 684.0L396.9 685.8L397.8 687.6L398.7 689.3L399.6 691.1L400.5 692.9L401.3 694.7L402.2 696.4L403.1 698.2L403.9 700.0L404.8 701.8L405.7 703.6L406.5 705.4L407.4 707.2L408.2 709.0L409.1 710.8L410.0 712.6L410.9 714.4L411.8 716.2L412.7 718.0L413.6 719.8L414.5 721.5L415.4 723.3L416.4 725.1L417.3 726.9L418.3 728.7L419.3 730.5L420.3 732.3L421.3 734.0L422.3 735.8L423.3 737.6L424.4 739.3L425.5 741.1L426.6 742.8L427.7 744.5L428.9 746.2L430.0 747.9L431.2 749.6L432.4 751.3L433.6 752.9L434.9 754.5L436.1 756.1L437.4 757.7L438.7 759.2L440.0 760.7L441.4 762.2L442.7 763.6L444.1 765.1L445.5 766.4L447.0 767.8L448.4 769.1L449.9 770.4L451.4 771.6L453.0 772.8L454.5 773.9L456.1 775.1L457.7 776.1L459.4 777.1L461.0 778.1L462.7 779.0L464.4 779.8L466.2 780.6L467.9 781.4L469.7 782.1L471.5 782.8L473.3 783.4L475.2 784.0L477.1 784.6L478.9 785.1L480.8 785.6L482.8 786.0L484.7 786.4L486.6 786.8L488.6 787.2L490.6 787.5L492.5 787.9L494.5 788.2L496.5 788.4L498.5 788.7L500.5 788.9L502.5 789.2L504.6 789.4L506.6 789.6L508.6 789.8L510.6 790.0L512.7 790.2L514.7 790.4L516.7 790.6L518.8 790.7L520.8 790.9L522.8 791.1L524.8 791.3L526.8 791.5L528.9 791.6L530.9 791.8L532.9 792.0L534.9 792.1L537.0 792.3L539.0 792.5L541.0 792.6L543.0 792.8L545.0 792.9L547.1 793.1L549.1 793.2L551.1 793.4L553.1 793.5L555.1 793.7L557.1 793.8L559.1 794.0L561.2 794.1L563.2 794.2L565.2 794.4L567.2 794.5L569.2 794.7L571.2 794.8L573.2 794.9L575.2 795.0L577.3 795.2L579.3 795.3L581.3 795.4L583.3 795.6L585.3 795.7L587.3 795.8L589.3 795.9L591.3 796.1L593.3 796.2L595.3 796.3L597.3 796.4L599.3 796.5L601.3 796.7L603.3 796.8L605.3 796.9L607.3 797.0L609.3 797.1L611.3 797.2L613.3 797.4L615.3 797.5L617.3 797.6L619.3 797.7L621.3 797.8L623.3 797.9L625.3 798.0L627.3 798.2L629.3 798.3L631.3 798.4L633.3 798.5L635.3 798.6L637.3 798.7L639.3 798.8L641.3 799.0L643.3 799.1L645.3 799.2L647.3 799.3L649.3 799.4L651.3 799.5L653.3 799.7L655.3 799.8L657.3 799.9L659.3 800.0L661.3 800.1L663.2 800.2L665.2 800.4L667.2 800.5L669.2 800.6L671.2 800.7L673.2 800.9L675.2 801.0L677.2 801.1L679.2 801.2L681.2 801.4L683.2 801.5L685.1 801.6L687.1 801.8L689.1 801.9L691.1 802.0L693.1 802.2L695.1 802.3L697.1 802.4L699.1 802.6L701.0 802.7L703.0 802.9L705.0 803.0L707.0 803.2L709.0 803.3L711.0 803.5L712.9 803.6L714.9 803.8L716.9 803.9L718.9 804.1L720.9 804.3L722.9 804.4L724.9 804.6L726.8 804.7L728.8 804.9L730.8 805.1L732.8 805.3L734.8 805.4L736.8 805.6L738.7 805.8L740.7 806.0L742.7 806.2L744.7 806.4L746.7 806.6L748.6 806.7L750.6 806.9L752.6 807.1L754.6 807.3L756.6 807.6L758.5 807.8L760.5 808.0L762.5 808.2L764.5 808.4L766.5 808.6L768.4 808.8L770.4 809.1L772.4 809.3L774.4 809.5L776.4 809.8L778.3 810.0L780.3 810.3L782.3 810.5L784.3 810.8L786.3 811.0L788.2 811.3L790.2 811.5L792.2 811.8L794.2 812.1L796.2 812.3L798.1 812.6L800.1 812.9L802.1 813.2L804.1 813.5L806.0 813.8L808.0 814.0L810.0 814.3L812.0 814.7L814.0 815.0L815.9 815.3L817.9 815.6L819.9 815.9L821.9 816.2L823.8 816.6L825.8 816.9L827.8 817.2L829.8 817.6L831.8 817.9L833.7 818.3L835.7 818.6L837.7 819.0L839.7 819.4L841.6 819.7L843.6 820.1L845.6 820.5L847.6 820.8L849.6 821.2L851.5 821.6L853.5 822.0L855.5 822.4L857.5 822.8L859.4 823.2L861.4 823.6L863.4 824.0L865.4 824.4L867.3 824.8L869.3 825.2L871.3 825.6L873.2 826.0L875.2 826.4L877.2 826.8L879.2 827.3L881.1 827.7L883.1 828.1L885.1 828.5L887.0 829.0L889.0 829.4L891.0 829.8L892.9 830.3L894.9 830.7L896.9 831.1L898.8 831.6L900.8 832.0L902.8 832.4L904.7 832.9L906.7 833.3L908.7 833.8L910.6 834.2L912.6 834.7L914.5 835.1L916.5 835.5L918.5 836.0L920.4 836.4L922.4 836.9L924.3 837.3L926.3 837.8L928.2 838.2L930.2 838.7L932.1 839.1L934.1 839.6L936.0 840.0L938.0 840.5L939.9 840.9L941.9 841.4L943.8 841.8L945.8 842.3L947.7 842.7L949.7 843.1L951.6 843.6L953.6 844.0L955.5 844.5L957.4 844.9L959.4 845.4L961.3 845.9L963.2 846.3L965.2 846.8L967.1 847.3L969.0 847.7L971.0 848.2L972.9 848.7L974.8 849.2L976.7 849.7L978.7 850.3L980.6 850.8L982.5 851.3L984.4 851.9L986.3 852.4L988.2 853.0L990.1 853.6L992.0 854.2L993.9 854.8L995.8 855.4L997.7 856.0L999.6 856.7L1001.5 857.4L1003.4 858.0L1005.3 858.7L1007.2 859.5L1009.0 860.2L1010.9 860.9L1012.8 861.7L1014.6 862.5L1016.5 863.3L1018.3 864.1L1020.2 864.9L1022.0 865.8L1023.8 866.6L1025.6 867.5L1027.4 868.4L1029.2 869.3L1031.0 870.3L1032.8 871.2L1034.5 872.2L1036.3 873.2L1038.0 874.2L1039.7 875.3L1041.4 876.3L1043.1 877.4L1044.8 878.5L1046.5 879.6L1048.1 880.7L1049.7 881.9L1051.3 883.0L1052.9 884.2L1054.5 885.4L1056.1 886.7L1057.6 887.9L1059.1 889.2L1060.6 890.5L1062.1 891.8L1063.5 893.1L1065.0 894.5L1066.4 895.9L1067.8 897.3L1069.1 898.7L1070.5 900.2L1071.8 901.6L1073.1 903.1L1074.3 904.6L1075.6 906.2L1076.8 907.7L1078.0 909.3L1079.2 910.9L1080.4 912.5L1081.5 914.1L1082.7 915.7L1083.8 917.4L1084.9 919.0L1086.0 920.7L1087.0 922.4L1088.0 924.1L1089.1 925.8L1090.1 927.6L1091.1 929.3L1092.0 931.1L1093.0 932.9L1093.9 934.6L1094.9 936.4L1095.8 938.2L1096.7 940.1L1097.6 941.9L1098.4 943.7L1099.3 945.5L1100.1 947.4L1101.0 949.2L1101.8 951.1L1102.6 953.0L1103.4 954.8L1104.2 956.7L1105.0 958.6L1105.8 960.5L1106.5 962.3L1107.3 964.2L1108.0 966.1L1108.8 968.0L1109.5 969.9L1110.2 971.8L1110.9 973.7L1111.6 975.6L1112.3 977.5L1113.0 979.4L1113.7 981.3L1114.4 983.1L1115.1 985.0L1115.7 986.9L1116.4 988.8L1117.1 990.7L1117.7 992.6L1118.4 994.5L1119.0 996.4L1119.7 998.3L1120.3 1000.2L1120.9 1002.1L1121.6 1004.0L1122.2 1005.8L1122.8 1007.7L1123.4 1009.6L1124.1 1011.5L1124.7 1013.4L1125.3 1015.3L1125.9 1017.2L1126.5 1019.1L1127.2 1021.0L1127.8 1022.8L1128.4 1024.7L1129.0 1026.6L1129.6 1028.5L1130.3 1030.4L1130.9 1032.3L1131.5 1034.2L1132.1 1036.0L1132.7 1037.9L1133.4 1039.8L1134.0 1041.7L1134.6 1043.6L1135.3 1045.4L1135.9 1047.3L1136.5 1049.2L1137.2 1051.1L1137.8 1053.0L1138.5 1054.8L1139.1 1056.7L1139.8 1058.6L1140.5 1060.5L1141.1 1062.3L1141.8 1064.2L1142.5 1066.1L1143.2 1067.9L1143.9 1069.8L1144.6 1071.7L1145.3 1073.5L1146.0 1075.4L1146.7 1077.3L1147.4 1079.1L1148.2 1081.0L1148.9 1082.9L1149.7 1084.7L1150.4 1086.6L1151.2 1088.4L1151.9 1090.3L1152.7 1092.1L1153.5 1094.0L1154.3 1095.9L1155.0 1097.7L1155.8 1099.6L1156.6 1101.4L1157.4 1103.3L1158.2 1105.1L1159.0 1107.0L1159.7 1108.8L1160.5 1110.7L1161.3 1112.5L1162.1 1114.4L1162.9 1116.3L1163.7 1118.1L1164.5 1120.0L1165.2 1121.8L1166.0 1123.7L1166.8 1125.5L1167.6 1127.4L1168.3 1129.3L1169.1 1131.1L1169.8 1133.0L1170.6 1134.8L1171.3 1136.7L1172.1 1138.6L1172.8 1140.4L1173.5 1142.3L1174.2 1144.2L1174.9 1146.1L1175.6 1147.9L1176.3 1149.8L1177.0 1151.7L1177.7 1153.6L1178.4 1155.4L1179.0 1157.3L1179.7 1159.2L1180.3 1161.1L1181.0 1163.0L1181.6 1164.9L1182.3 1166.7L1182.9 1168.6L1183.6 1170.5L1184.2 1172.4L1184.8 1174.3L1185.5 1176.2L1186.1 1178.1L1186.7 1180.0L1187.4 1181.9L1188.0 1183.7L1188.6 1185.6L1189.3 1187.5L1189.9 1189.4L1190.5 1191.3L1191.2 1193.2L1191.8 1195.1L1192.5 1197.0L1193.1 1198.9L1193.8 1200.8L1194.5 1202.6L1195.1 1204.5L1195.8 1206.4L1196.5 1208.3L1197.1 1210.2L1197.8 1212.1L1198.5 1214.0L1199.2 1215.8L1199.9 1217.7L1200.5 1219.6L1201.2 1221.5L1201.9 1223.4L1202.6 1225.3L1203.3 1227.1L1204.0 1229.0L1204.8 1230.9L1205.5 1232.8L1206.2 1234.6L1206.9 1236.5L1207.6 1238.4L1208.4 1240.2L1209.1 1242.1L1209.8 1244.0L1210.5 1245.9L1211.3 1247.7L1212.0 1249.6L1212.8 1251.4L1213.5 1253.3L1214.3 1255.2L1215.0 1257.0L1215.8 1258.9L1216.5 1260.7L1217.3 1262.6L1218.0 1264.4L1218.8 1266.3L1219.6 1268.1L1220.4 1270.0L1221.1 1271.8L1221.9 1273.7L1222.7 1275.5L1223.5 1277.3L1224.3 1279.2L1225.1 1281.0L1225.9 1282.8L1226.8 1284.6L1227.6 1286.4L1228.5 1288.2L1229.3 1290.0L1230.2 1291.8L1231.1 1293.6L1232.0 1295.4L1232.9 1297.2L1233.9 1298.9L1234.8 1300.7L1235.8 1302.4L1236.7 1304.2L1237.7 1305.9L1238.7 1307.7L1239.7 1309.4L1240.7 1311.1L1241.7 1312.8L1242.7 1314.6L1243.7 1316.3L1244.7 1318.0L1245.7 1319.8L1246.6 1321.5L1247.6 1323.2L1248.6 1325.0L1249.6 1326.7L1250.5 1328.5L1251.5 1330.2L1252.4 1332.0L1253.3 1333.7L1254.2 1335.5L1255.1 1337.3L1256.0 1339.0L1256.8 1340.8L1257.7 1342.6L1258.5 1344.4L1259.3 1346.2L1260.2 1348.0L1261.0 1349.8L1261.7 1351.7L1262.5 1353.5L1263.3 1355.3L1264.0 1357.2L1264.8 1359.0L1265.5 1360.8L1266.2 1362.7L1266.9 1364.6L1267.6 1366.4L1268.3 1368.3L1269.0 1370.2L1269.7 1372.0L1270.3 1373.9L1271.0 1375.8L1271.6 1377.7L1272.2 1379.6L1272.8 1381.5L1273.5 1383.4L1274.1 1385.3L1274.7 1387.3L1275.3 1389.2L1275.9 1391.1L1276.5 1393.0L1277.1 1394.9L1277.7 1396.8L1278.3 1398.7L1278.9 1400.7L1279.5 1402.6L1280.2 1404.5L1280.8 1406.4L1281.5 1408.3L1282.1 1410.2L1282.8 1412.1L1283.5 1413.9L1284.2 1415.8L1284.9 1417.7L1285.7 1419.6L1286.4 1421.4L1287.2 1423.3L1288.0 1425.1L1288.8 1426.9L1289.6 1428.7L1290.5 1430.5L1291.4 1432.3L1292.3 1434.1L1293.3 1435.9" stroke="#ff00ff" stroke-width="8.2"/>
<path d="M254.1 566.4L256.1 566.2L258.1 566.1L260.1 566.0L262.2 565.9L264.2 565.9L266.2 565.9L268.2 565.9L270.2 566.0L272.2 566.1L274.2 566.2L276.2 566.3L278.2 566.4L280.2 566.6L282.2 566.8L284.2 567.1L286.2 567.4L288.2 567.6L290.2 568.0L292.2 568.3L294.1 568.7L296.1 569.1L298.1 569.5L300.0 570.0L302.0 570.5L303.9 571.0L305.8 571.5L307.7 572.1L309.7 572.7L311.6 573.3L313.4 574.0L315.3 574.6L317.2 575.3L319.0 576.1L320.9 576.8L322.7 577.6L324.5 578.4L326.3 579.3L328.1 580.1L329.9 581.0L331.7 582.0L333.4 582.9L335.1 583.9L336.8 584.9L338.5 585.9L340.2 587.0L341.9 588.1L343.5 589.2L345.1 590.3L346.7 591.5L348.3 592.7L349.8 593.9L351.4 595.1L352.9 596.4L354.4 597.7L355.9 599.0L357.3 600.4L358.7 601.8L360.2 603.2L361.6 604.6L362.9 606.0L364.3 607.5L365.7 608.9L367.0 610.4L368.3 611.9L369.7 613.4L371.0 615.0L372.3 616.5L373.6 618.1L374.8 619.6L376.1 621.2L377.4 622.8L378.6 624.3L379.9 625.9L381.1 627.5L382.4 629.1L383.6 630.7L384.9 632.3L386.1 633.8L387.4 635.4L388.6 637.0L389.8 638.6L391.1 640.2L392.3 641.8L393.6 643.4L394.8 644.9L396.1 646.5L397.4 648.1L398.6 649.7L399.9 651.2L401.2 652.8L402.5 654.3L403.7 655.9L405.1 657.4L406.4 658.9L407.7 660.5L409.0 662.0L410.4 663.4L411.8 664.9L413.2 666.4L414.6 667.8L416.0 669.2L417.4 670.6L418.9 671.9L420.4 673.2L421.9 674.5L423.4 675.8L425.0 677.0L426.6 678.2L428.2 679.4L429.8 680.5L431.4 681.6L433.1 682.7L434.8 683.8L436.5 684.8L438.2 685.8L439.9 686.8L441.7 687.7L443.4 688.6L445.2 689.5L447.0 690.3L448.8 691.2L450.6 692.0L452.4 692.7L454.3 693.5L456.1 694.2L458.0 694.9L459.9 695.5L461.8 696.2L463.6 696.8L465.5 697.3L467.4 697.9L469.4 698.4L471.3 698.9L473.2 699.4L475.1 699.8L477.0 700.2L479.0 700.6L480.9 701.0L482.9 701.3L484.8 701.7L486.8 702.0L488.8 702.3L490.7 702.5L492.7 702.8L494.7 703.0L496.6 703.3L498.6 703.5L500.6 703.7L502.6 703.8L504.6 704.0L506.6 704.2L508.6 704.3L510.6 704.4L512.6 704.6L514.6 704.7L516.6 704.8L518.6 704.9L520.6 705.0L522.6 705.1L524.6 705.1L526.7 705.2L528.7 705.3L530.7 705.4L532.7 705.4L534.7 705.5L536.7 705.6L538.7 705.6L540.8 705.7L542.8 705.8L544.8 705.8L546.8 705.9L548.8 706.0L550.8 706.1L552.8 706.1L554.8 706.2L556.9 706.3L558.9 706.4L560.9 706.5L562.9 706.6L564.9 706.7L566.9 706.8L568.9 706.9L570.9 706.9L572.9 707.0L574.9 707.1L576.9 707.2L578.9 707.3L581.0 707.4L583.0 707.6L585.0 707.7L587.0 707.8L589.0 707.9L591.0 708.0L593.0 708.1L595.0 708.2L597.0 708.3L599.0 708.5L601.0 708.6L603.0 708.7L605.0 708.8L607.0 709.0L609.0 709.1L611.0 709.2L613.0 709.3L615.0 709.5L617.0 709.6L619.0 709.7L621.0 709.9L623.0 710.0L625.0 710.2L627.0 710.3L629.0 710.4L631.0 710.6L633.0 710.7L635.0 710.9L637.0 711.0L639.0 711.2L641.0 711.3L643.0 711.5L645.0 711.7L646.9 711.8L648.9 712.0L650.9 712.1L652.9 712.3L654.9 712.5L656.9 712.6L658.9 712.8L660.9 713.0L662.9 713.1L664.9 713.3L666.9 713.5L668.9 713.7L670.9 713.8L672.9 714.0L674.8 714.2L676.8 714.4L678.8 714.6L680.8 714.7L682.8 714.9L684.8 715.1L686.8 715.3L688.8 715.5L690.8 715.7L692.7 715.9L694.7 716.1L696.7 716.3L698.7 716.5L700.7 716.7L702.7 716.9L704.7 717.1L706.7 717.3L708.6 717.5L710.6 717.7L712.6 717.9L714.6 718.1L716.6 718.3L718.6 718.5L720.5 718.8L722.5 719.0L724.5 719.2L726.5 719.4L728.5 719.6L730.5 719.8L732.5 720.1L734.4 720.3L736.4 720.5L738.4 720.8L740.4 721.0L742.4 721.2L744.3 721.4L746.3 721.7L748.3 721.9L750.3 722.1L752.3 722.4L754.3 722.6L756.2 722.9L758.2 723.1L760.2 723.4L762.2 723.6L764.2 723.8L766.1 724.1L768.1 724.3L770.1 724.6L772.1 724.8L774.1 725.1L776.0 725.4L778.0 725.6L780.0 725.9L782.0 726.1L784.0 726.4L785.9 726.7L787.9 726.9L789.9 727.2L791.9 727.4L793.8 727.7L795.8 728.0L797.8 728.3L799.8 728.5L801.8 728.8L803.7 729.1L805.7 729.3L807.7 729.6L809.7 729.9L811.6 730.2L813.6 730.5L815.6 730.7L817.6 731.0L819.5 731.3L821.5 731.6L823.5 731.9L825.5 732.2L827.5 732.5L829.4 732.8L831.4 733.1L833.4 733.3L835.4 733.6L837.3 733.9L839.3 734.2L841.3 734.5L843.3 734.8L845.2 735.1L847.2 735.4L849.2 735.8L851.2 736.1L853.1 736.4L855.1 736.7L857.1 737.0L859.1 737.3L861.0 737.6L863.0 737.9L865.0 738.2L867.0 738.6L868.9 738.9L870.9 739.2L872.9 739.5L874.9 739.8L876.8 740.2L878.8 740.5L880.8 740.8L882.8 741.1L884.7 741.5L886.7 741.8L888.7 742.1L890.7 742.4L892.6 742.8L894.6 743.1L896.6 743.4L898.6 743.8L900.5 744.1L902.5 744.5L904.5 744.8L906.4 745.1L908.4 745.5L910.4 745.8L912.4 746.2L914.3 746.5L916.3 746.9L918.3 747.2L920.3 747.6L922.2 748.0L924.2 748.3L926.2 748.7L928.1 749.1L930.1 749.4L932.1 749.8L934.1 750.2L936.0 750.5L938.0 750.9L940.0 751.3L941.9 751.7L943.9 752.1L945.9 752.5L947.8 752.9L949.8 753.2L951.8 753.6L953.7 754.0L955.7 754.4L957.7 754.9L959.6 755.3L961.6 755.7L963.6 756.1L965.5 756.5L967.5 756.9L969.5 757.3L971.4 757.8L973.4 758.2L975.4 758.6L977.3 759.1L979.3 759.5L981.2 760.0L983.2 760.4L985.2 760.9L987.1 761.3L989.1 761.8L991.0 762.3L993.0 762.8L994.9 763.3L996.8 763.8L998.8 764.3L1000.7 764.9L1002.6 765.4L1004.5 766.0L1006.4 766.6L1008.3 767.3L1010.2 767.9L1012.1 768.6L1013.9 769.3L1015.8 770.0L1017.6 770.8L1019.4 771.6L1021.2 772.4L1023.0 773.3L1024.8 774.2L1026.6 775.1L1028.3 776.0L1030.0 777.0L1031.8 778.0L1033.5 779.0L1035.2 780.1L1036.8 781.1L1038.5 782.2L1040.1 783.4L1041.8 784.5L1043.4 785.7L1045.0 786.9L1046.5 788.1L1048.1 789.4L1049.6 790.7L1051.1 792.0L1052.7 793.3L1054.1 794.6L1055.6 796.0L1057.1 797.4L1058.5 798.8L1059.9 800.2L1061.3 801.6L1062.7 803.1L1064.0 804.6L1065.4 806.0L1066.7 807.6L1068.0 809.1L1069.2 810.6L1070.5 812.2L1071.7 813.8L1072.9 815.3L1074.1 816.9L1075.3 818.6L1076.4 820.2L1077.6 821.8L1078.7 823.5L1079.8 825.1L1080.8 826.8L1081.9 828.5L1082.9 830.2L1083.9 831.9L1084.9 833.7L1085.9 835.4L1086.9 837.1L1087.8 838.9L1088.8 840.7L1089.7 842.4L1090.6 844.2L1091.5 846.0L1092.4 847.8L1093.2 849.6L1094.1 851.4L1094.9 853.2L1095.8 855.1L1096.6 856.9L1097.4 858.7L1098.2 860.6L1099.0 862.4L1099.8 864.3L1100.5 866.1L1101.3 868.0L1102.0 869.8L1102.8 871.7L1103.5 873.6L1104.2 875.5L1105.0 877.3L1105.7 879.2L1106.4 881.1L1107.1 883.0L1107.8 884.9L1108.5 886.7L1109.2 888.6L1109.9 890.5L1110.5 892.4L1111.2 894.3L1111.9 896.2L1112.5 898.1L1113.2 900.0L1113.9 901.9L1114.5 903.7L1115.2 905.6L1115.8 907.5L1116.5 909.4L1117.1 911.3L1117.7 913.2L1118.4 915.1L1119.0 917.0L1119.6 918.9L1120.3 920.8L1120.9 922.7L1121.5 924.6L1122.1 926.5L1122.7 928.4L1123.4 930.3L1124.0 932.2L1124.6 934.1L1125.2 936.0L1125.8 937.9L1126.4 939.8L1127.0 941.7L1127.6 943.6L1128.2 945.6L1128.8 947.5L1129.4 949.4L1130.0 951.3L1130.6 953.2L1131.3 955.1L1131.9 957.0L1132.5 958.9L1133.1 960.8L1133.7 962.7L1134.3 964.6L1134.9 966.5L1135.5 968.4L1136.1 970.3L1136.7 972.2L1137.3 974.1L1138.0 976.0L1138.6 977.9L1139.2 979.8L1139.8 981.7L1140.4 983.6L1141.1 985.5L1141.7 987.4L1142.3 989.3L1142.9 991.2L1143.6 993.1L1144.2 995.0L1144.9 996.9L1145.5 998.8L1146.1 1000.6L1146.8 1002.5L1147.4 1004.4L1148.1 1006.3L1148.7 1008.2L1149.3 1010.1L1150.0 1012.0L1150.6 1013.9L1151.3 1015.8L1151.9 1017.7L1152.6 1019.6L1153.3 1021.4L1153.9 1023.3L1154.6 1025.2L1155.2 1027.1L1155.9 1029.0L1156.6 1030.9L1157.2 1032.8L1157.9 1034.6L1158.6 1036.5L1159.2 1038.4L1159.9 1040.3L1160.6 1042.2L1161.2 1044.1L1161.9 1045.9L1162.6 1047.8L1163.3 1049.7L1163.9 1051.6L1164.6 1053.5L1165.3 1055.3L1166.0 1057.2L1166.7 1059.1L1167.4 1061.0L1168.0 1062.9L1168.7 1064.7L1169.4 1066.6L1170.1 1068.5L1170.8 1070.4L1171.5 1072.2L1172.2 1074.1L1172.9 1076.0L1173.6 1077.9L1174.3 1079.7L1175.0 1081.6L1175.7 1083.5L1176.4 1085.4L1177.1 1087.2L1177.8 1089.1L1178.5 1091.0L1179.2 1092.9L1179.9 1094.7L1180.6 1096.6L1181.3 1098.5L1182.0 1100.3L1182.7 1102.2L1183.4 1104.1L1184.1 1106.0L1184.8 1107.8L1185.6 1109.7L1186.3 1111.6L1187.0 1113.4L1187.7 1115.3L1188.4 1117.2L1189.1 1119.0L1189.8 1120.9L1190.6 1122.8L1191.3 1124.6L1192.0 1126.5L1192.7 1128.4L1193.4 1130.2L1194.2 1132.1L1194.9 1134.0L1195.6 1135.8L1196.3 1137.7L1197.1 1139.6L1197.8 1141.4L1198.5 1143.3L1199.2 1145.2L1200.0 1147.0L1200.7 1148.9L1201.4 1150.8L1202.1 1152.6L1202.9 1154.5L1203.6 1156.3L1204.3 1158.2L1205.1 1160.1L1205.8 1161.9L1206.5 1163.8L1207.3 1165.7L1208.0 1167.5L1208.7 1169.4L1209.5 1171.2L1210.2 1173.1L1210.9 1175.0L1211.7 1176.8L1212.4 1178.7L1213.1 1180.5L1213.9 1182.4L1214.6 1184.3L1215.4 1186.1L1216.1 1188.0L1216.8 1189.8L1217.6 1191.7L1218.3 1193.6L1219.0 1195.4L1219.8 1197.3L1220.5 1199.1L1221.3 1201.0L1222.0 1202.8L1222.7 1204.7L1223.5 1206.6L1224.2 1208.4L1225.0 1210.3L1225.7 1212.1L1226.4 1214.0L1227.2 1215.8L1227.9 1217.7L1228.7 1219.6L1229.4 1221.4L1230.1 1223.3L1230.9 1225.1L1231.6 1227.0L1232.4 1228.8L1233.1 1230.7L1233.8 1232.6L1234.6 1234.4L1235.3 1236.3L1236.1 1238.1L1236.8 1240.0L1237.6 1241.8L1238.3 1243.7L1239.0 1245.6L1239.8 1247.4L1240.5 1249.3L1241.2 1251.1L1242.0 1253.0L1242.7 1254.8L1243.4 1256.7L1244.2 1258.6L1244.9 1260.4L1245.6 1262.3L1246.4 1264.1L1247.1 1266.0L1247.8 1267.9L1248.5 1269.7L1249.2 1271.6L1249.9 1273.5L1250.7 1275.3L1251.4 1277.2L1252.1 1279.1L1252.8 1280.9L1253.5 1282.8L1254.2 1284.7L1254.9 1286.5L1255.6 1288.4L1256.2 1290.3L1256.9 1292.2L1257.6 1294.1L1258.3 1295.9L1258.9 1297.8L1259.6 1299.7L1260.3 1301.6L1260.9 1303.5L1261.6 1305.4L1262.2 1307.3L1262.9 1309.2L1263.5 1311.0L1264.1 1312.9L1264.8 1314.8L1265.4 1316.7L1266.0 1318.6L1266.7 1320.5L1267.3 1322.4L1267.9 1324.3L1268.5 1326.3L1269.1 1328.2L1269.7 1330.1L1270.4 1332.0L1271.0 1333.9L1271.6 1335.8L1272.2 1337.7L1272.9 1339.6L1273.5 1341.5L1274.1 1343.4L1274.8 1345.3L1275.4 1347.1L1276.1 1349.0L1276.7 1350.9L1277.4 1352.8L1278.1 1354.7L1278.7 1356.6L1279.4 1358.5L1280.1 1360.3L1280.8 1362.2L1281.5 1364.1L1282.3 1365.9L1283.0 1367.8L1283.7 1369.7L1284.5 1371.5L1285.3 1373.4L1286.0 1375.2L1286.8 1377.1L1287.6 1378.9L1288.3 1380.7L1289.1 1382.6L1289.9 1384.4L1290.7 1386.3L1291.5 1388.1L1292.3 1389.9L1293.1 1391.8L1293.9 1393.6L1294.7 1395.4L1295.5 1397.3L1296.4 1399.1L1297.2 1400.9L1298.0 1402.8L1298.8 1404.6L1299.6 1406.4L1300.4 1408.3L1301.2 1410.1L1302.0 1411.9L1302.8 1413.8L1303.5 1415.6L1304.3 1417.5L1305.1 1419.3L1305.9 1421.1L1306.6 1423.0L1307.4 1424.8L1308.1 1426.7L1308.9 1428.6L1309.6 1430.4L1310.3 1432.3L1311.0 1434.2L1311.7 1436.0" stroke="#0000ff" stroke-width="8.8"/>
</g>
<rect x="180" y="50.4" width="1711.4" height="1386.3" fill="none" stroke="#141414" stroke-width="5.9"/>
<text transform="translate(176.31 1512.60) scale(1 1.065)" font-size="58.70" stroke="#000" stroke-width="0.7" stroke-linejoin="round">0</text>
<text transform="translate(485.11 1512.60) scale(1 1.065)" font-size="58.70" stroke="#000" stroke-width="0.7" stroke-linejoin="round">100</text>
<text transform="translate(828.02 1512.60) scale(1 1.065)" font-size="58.70" stroke="#000" stroke-width="0.7" stroke-linejoin="round">200</text>
<text transform="translate(1170.49 1512.60) scale(1 1.065)" font-size="58.70" stroke="#000" stroke-width="0.7" stroke-linejoin="round">300</text>
<text transform="translate(1512.81 1512.60) scale(1 1.065)" font-size="58.70" stroke="#000" stroke-width="0.7" stroke-linejoin="round">400</text>
<text transform="translate(1854.39 1512.60) scale(1 1.065)" font-size="58.70" stroke="#000" stroke-width="0.7" stroke-linejoin="round">500</text>
<text transform="translate(154.30 63.10) scale(1 1.065)" font-size="58.70" text-anchor="end" stroke="#000" stroke-width="0.7" stroke-linejoin="round">8</text>
<text transform="translate(154.30 409.80) scale(1 1.065)" font-size="58.70" text-anchor="end" stroke="#000" stroke-width="0.7" stroke-linejoin="round">6</text>
<text transform="translate(154.30 756.50) scale(1 1.065)" font-size="58.70" text-anchor="end" stroke="#000" stroke-width="0.7" stroke-linejoin="round">4</text>
<text transform="translate(154.30 1103.20) scale(1 1.065)" font-size="58.70" text-anchor="end" stroke="#000" stroke-width="0.7" stroke-linejoin="round">2</text>
<text transform="translate(154.30 1449.90) scale(1 1.065)" font-size="58.70" text-anchor="end" stroke="#000" stroke-width="0.7" stroke-linejoin="round">0</text>
<text transform="translate(792.70 1625.70) scale(1 1.060)" font-size="60.30" stroke="#000" stroke-width="0.7" stroke-linejoin="round">Temperature <tspan font-size="56" dy="-1">(</tspan></text>
<text transform="translate(1192.60 1616.80) scale(1 1.000)" font-size="62.00" font-weight="normal">&#176;</text>
<text transform="translate(1215.29 1625.70) scale(1 1.060)" font-size="60.30" stroke="#000" stroke-width="0.7" stroke-linejoin="round">C<tspan font-size="56" x="45.8" dy="-1">)</tspan></text>
<text transform="translate(63.6 905.65) rotate(-90) scale(1 1.075)" font-size="60.20" stroke="#000" stroke-width="0.7" stroke-linejoin="round">Weight <tspan font-size="56">(</tspan>mg<tspan font-size="56">)</tspan></text>
<rect x="1258.5" y="69.8" width="629.8" height="316.2" fill="#ffffff" stroke="#000" stroke-width="7"/>
<line x1="1281" y1="123.2" x2="1384" y2="123.2" stroke="#000000" stroke-width="7" stroke-linecap="round"/>
<text transform="translate(1398.81 139.00) scale(1 1.075)" font-size="56.10" stroke="#000" stroke-width="1.2" stroke-linejoin="round">PVA</text>
<line x1="1281" y1="200.2" x2="1384" y2="200.2" stroke="#ff0000" stroke-width="7" stroke-linecap="round"/>
<text transform="translate(1398.81 216.00) scale(1 1.075)" font-size="56.10" stroke="#000" stroke-width="1.2" stroke-linejoin="round">PVA/Ag 2</text>
<text transform="translate(1670.99 213.40) scale(1.070 0.9)" font-size="62.0" font-family="&#39;Liberation Serif&#39;, &#39;Times New Roman&#39;, serif" font-weight="normal">&#956;</text>
<text transform="translate(1705.46 212.90) scale(1 1.010)" font-size="56.10" stroke="#000" stroke-width="1.2" stroke-linejoin="round">g/ml</text>
<line x1="1281" y1="277.2" x2="1384" y2="277.2" stroke="#0000ff" stroke-width="7" stroke-linecap="round"/>
<text transform="translate(1398.81 293.00) scale(1 1.075)" font-size="56.10" stroke="#000" stroke-width="1.2" stroke-linejoin="round">PVA/Ag 5</text>
<text transform="translate(1670.99 290.40) scale(1.070 0.9)" font-size="62.0" font-family="&#39;Liberation Serif&#39;, &#39;Times New Roman&#39;, serif" font-weight="normal">&#956;</text>
<text transform="translate(1705.46 289.90) scale(1 1.010)" font-size="56.10" stroke="#000" stroke-width="1.2" stroke-linejoin="round">g/ml</text>
<line x1="1281" y1="354.2" x2="1384" y2="354.2" stroke="#ff00ff" stroke-width="7" stroke-linecap="round"/>
<text transform="translate(1398.81 370.00) scale(1 1.075)" font-size="56.10" stroke="#000" stroke-width="1.2" stroke-linejoin="round">PVA/Ag 10</text>
<text transform="translate(1699.79 367.40) scale(1.070 0.9)" font-size="62.0" font-family="&#39;Liberation Serif&#39;, &#39;Times New Roman&#39;, serif" font-weight="normal">&#956;</text>
<text transform="translate(1734.46 366.90) scale(1 1.010)" font-size="56.10" stroke="#000" stroke-width="1.2" stroke-linejoin="round">g/ml</text></g></svg>
</body></html>
